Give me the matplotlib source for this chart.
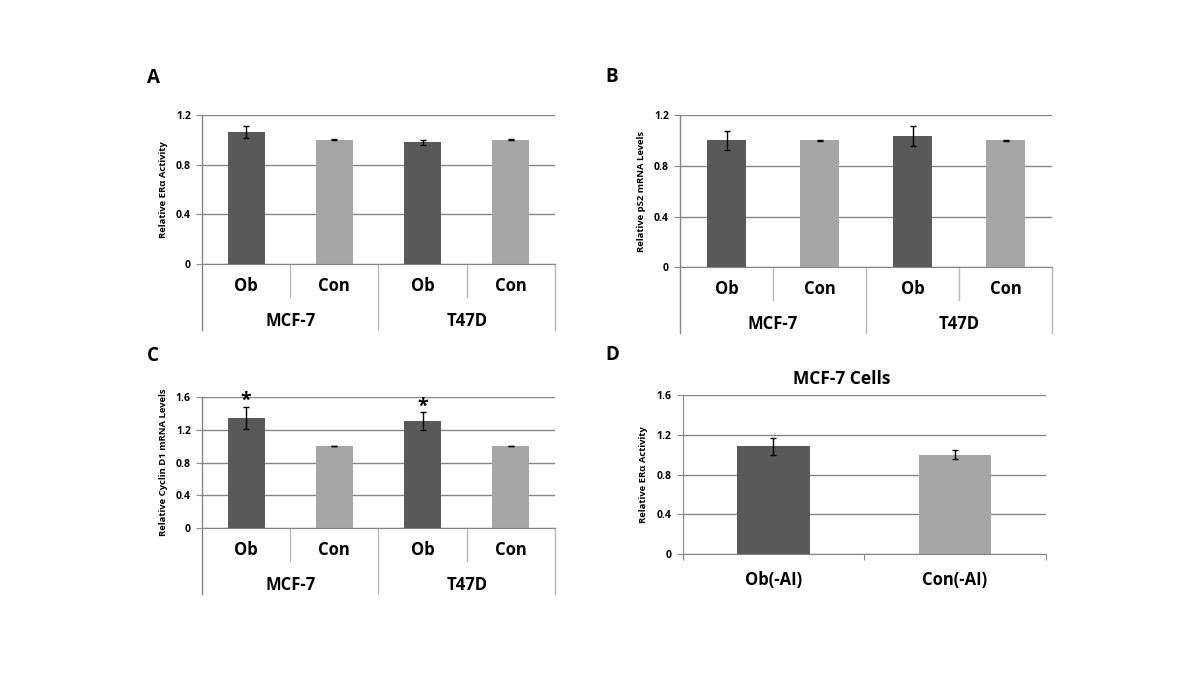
import matplotlib.pyplot as plt
import numpy as np

plt.rcParams['font.family'] = ['Open Sans', 'DejaVu Sans']

# data
groups = ['MCF-7', 'T47D']
conds = ['Ob', 'Con', 'Ob', 'Con']
era_mean = [1.065, 1.0, 0.98, 1.0]
era_err = [0.047, 0.003, 0.018, 0.003]
ps2_mean = [1.0, 1.0, 1.035, 1.0]
ps2_err = [0.073, 0.003, 0.08, 0.003]
ccnd1_mean = [1.345, 1.0, 1.30, 1.0]
ccnd1_err = [0.135, 0.003, 0.11, 0.003]
ccnd1_sig = [True, False, True, False]
d_labels = ['Ob(-AI)', 'Con(-AI)']
d_mean = [1.085, 1.0]
d_err = [0.085, 0.045]

DARK = '#595959'
LIGHT = '#a6a6a6'
GRID = '#868686'
SEP = '#b8b8b8'
FIG_H = 675


def base_axes(ax, ymax, ylabel):
    ax.set_ylim(0, ymax)
    ax.set_yticks(np.arange(0, ymax + 0.01, 0.4))
    ax.set_yticklabels(['0'] + ['%.1f' % v for v in np.arange(0.4, ymax + 0.01, 0.4)])
    ax.yaxis.grid(True, color=GRID, lw=1)
    ax.set_axisbelow(True)
    for s in ['top', 'right']:
        ax.spines[s].set_visible(False)
    ax.spines['left'].set_color(GRID)
    ax.spines['bottom'].set_color(GRID)
    ax.tick_params(axis='y', length=4, color=GRID, labelsize=7.5, pad=4)
    for t in ax.get_yticklabels():
        t.set_fontweight('bold')
    ax.set_ylabel(ylabel, fontsize=6.8, fontweight='bold', labelpad=6)


def grouped_panel(ax, means, errs, ymax, ylabel):
    x = np.arange(len(means))
    colors = [DARK, LIGHT] * 2
    ax.bar(x, means, width=0.42, color=colors, zorder=2)
    ax.errorbar(x, means, yerr=errs, fmt='none', ecolor='black', elinewidth=1,
                capsize=2.5, capthick=1, zorder=3)
    ax.set_xlim(-0.5, 3.5)
    ax.set_xticks([])
    base_axes(ax, ymax, ylabel)
    ax.spines['left'].set_visible(False)
    # hierarchical category axis
    h = ax.get_position().height * FIG_H
    tr = ax.get_xaxis_transform()
    for xb in [-0.5, 0.5, 1.5, 2.5, 3.5]:
        drop = 66 if xb in (-0.5, 1.5, 3.5) else 33
        ax.plot([xb, xb], [1.0 if xb == -0.5 else 0, -drop / h], transform=tr,
                color=GRID if xb == -0.5 else SEP, lw=1, clip_on=False)
    for i, c in enumerate(conds):
        ax.text(i, -22 / h, c, transform=tr, ha='center', va='center',
                fontsize=12, fontweight='bold')
    for j, g in enumerate(groups):
        ax.text(2 * j + 0.5, -57 / h, g, transform=tr, ha='center', va='center',
                fontsize=12, fontweight='bold')


fig = plt.figure(figsize=(12, 6.75), dpi=100)

axA = fig.add_axes([0.1683, 0.6089, 0.2942, 0.2207])
grouped_panel(axA, era_mean, era_err, 1.2, 'Relative ERα Activity')

axB = fig.add_axes([0.5667, 0.604, 0.31, 0.2256])
grouped_panel(axB, ps2_mean, ps2_err, 1.2, 'Relative pS2 mRNA Levels')

axC = fig.add_axes([0.1683, 0.2173, 0.2942, 0.195])
grouped_panel(axC, ccnd1_mean, ccnd1_err, 1.6, 'Relative Cyclin D1 mRNA Levels')
for i, s in enumerate(ccnd1_sig):
    if s:
        axC.annotate('*', (i, ccnd1_mean[i] + ccnd1_err[i]), xytext=(0, -3),
                     textcoords='offset points', ha='center', va='bottom',
                     fontsize=14, fontweight='bold')

axD = fig.add_axes([0.5689, 0.1788, 0.3025, 0.236])
xd = np.arange(len(d_mean))
axD.bar(xd, d_mean, width=0.40, color=[DARK, LIGHT], zorder=2)
axD.errorbar(xd, d_mean, yerr=d_err, fmt='none', ecolor='black', elinewidth=1,
             capsize=2.5, capthick=1, zorder=3)
axD.set_xlim(-0.5, 1.5)
base_axes(axD, 1.6, 'Relative ERα Activity')
axD.set_xticks([-0.5, 0.5, 1.5])
axD.set_xticklabels([])
axD.set_xticks(xd, minor=True)
axD.set_xticklabels(d_labels, minor=True, fontsize=12, fontweight='bold')
axD.tick_params(axis='x', which='major', length=4, color=GRID)
axD.tick_params(axis='x', which='minor', length=0, pad=12)

fig.text(842 / 1200, 1 - 379 / 675, 'MCF-7 Cells', ha='center', va='center',
         fontsize=12.5, fontweight='bold')

for lab, px, py in [('A', 153, 78), ('B', 612, 77), ('C', 153, 356), ('D', 612, 355)]:
    fig.text(px / 1200, 1 - py / 675, lab, ha='center', va='center',
             fontsize=13.5, fontweight='bold')

fig.savefig('out.png', dpi=100, facecolor='white')
